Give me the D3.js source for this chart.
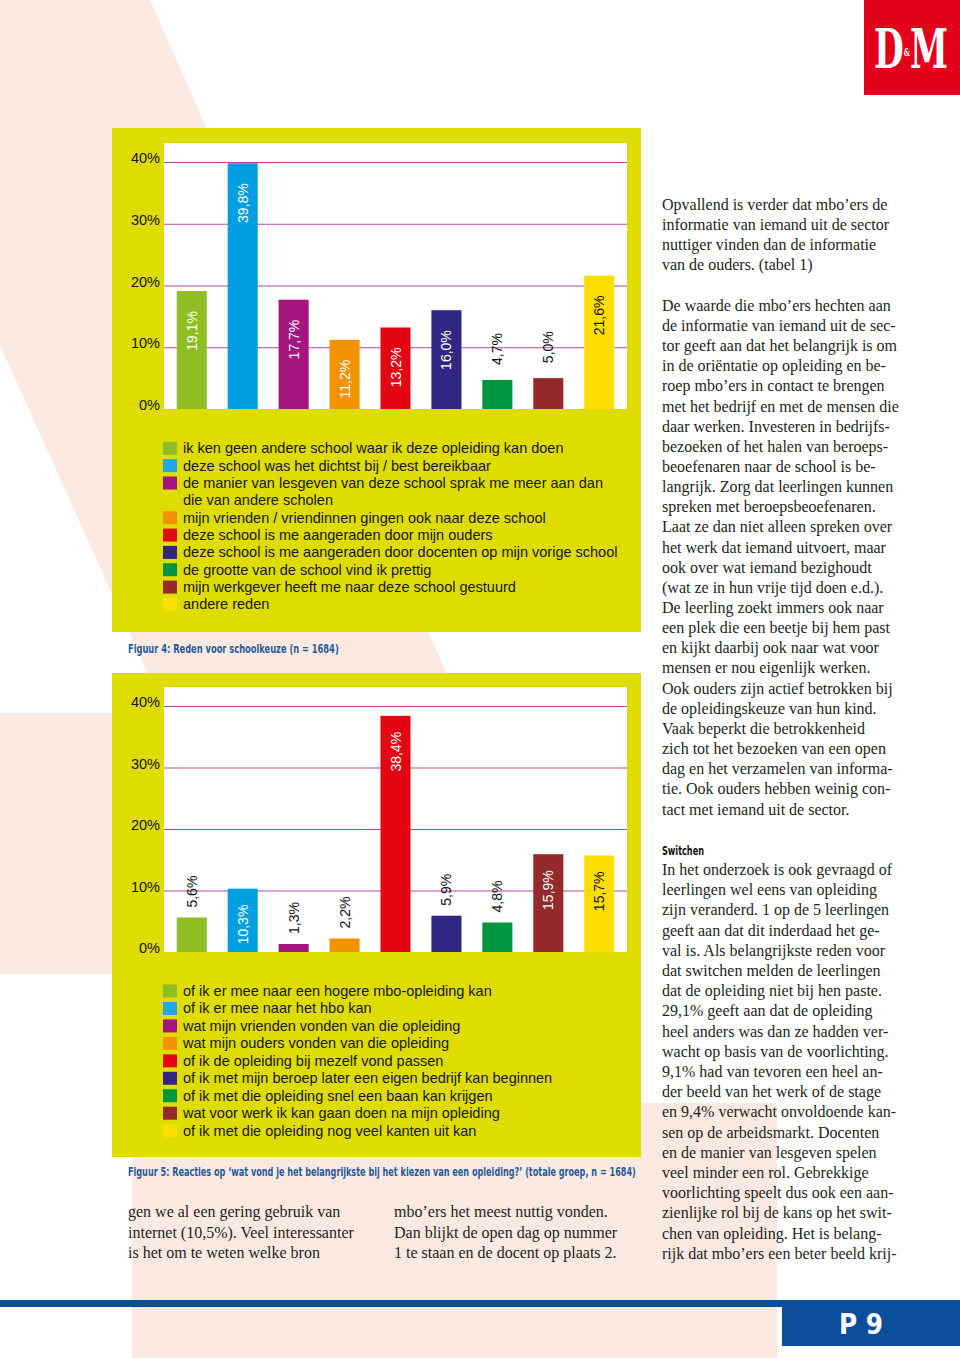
<!DOCTYPE html>
<html><head><meta charset="utf-8">
<script src="https://cdn.jsdelivr.net/npm/d3@7"></script>
<style>body{margin:0;background:#fff} svg{display:block}</style>
</head><body>
<script>
// ---------- DATA ----------
const categories1 = [
  "ik ken geen andere school waar ik deze opleiding kan doen",
  "deze school was het dichtst bij / best bereikbaar",
  "de manier van lesgeven van deze school sprak me meer aan dan die van andere scholen",
  "mijn vrienden / vriendinnen gingen ook naar deze school",
  "deze school is me aangeraden door mijn ouders",
  "deze school is me aangeraden door docenten op mijn vorige school",
  "de grootte van de school vind ik prettig",
  "mijn werkgever heeft me naar deze school gestuurd",
  "andere reden"
];
const values1 = [19.1, 39.8, 17.7, 11.2, 13.2, 16.0, 4.7, 5.0, 21.6];

const categories2 = [
  "of ik er mee naar een hogere mbo-opleiding kan",
  "of ik er mee naar het hbo kan",
  "wat mijn vrienden vonden van die opleiding",
  "wat mijn ouders vonden van die opleiding",
  "of ik de opleiding bij mezelf vond passen",
  "of ik met mijn beroep later een eigen bedrijf kan beginnen",
  "of ik met die opleiding snel een baan kan krijgen",
  "wat voor werk ik kan gaan doen na mijn opleiding",
  "of ik met die opleiding nog veel kanten uit kan"
];
const values2 = [5.6, 10.3, 1.3, 2.2, 38.4, 5.9, 4.8, 15.9, 15.7];

const yTicks = [0, 10, 20, 30, 40];
const caption1 = "Figuur 4: Reden voor schoolkeuze (n = 1684)";
const caption2 = "Figuur 5: Reacties op \u2018wat vond je het belangrijkste bij het kiezen van een opleiding?\u2019 (totale groep, n = 1684)";

const barColors = ["#8fbe24","#009fe3","#a5157f","#f39200","#e30613","#312783","#009640","#952a2a","#ffdd00"];
const legendColors = ["#8fbe24","#22a7e6","#a5157f","#f39200","#e30613","#312783","#009640","#952a2a","#f8e000"];

const rightColumn = [
  "Opvallend is verder dat mbo\u2019ers de",
  "informatie van iemand uit de sector",
  "nuttiger vinden dan de informatie",
  "van de ouders. (tabel 1)",
  "",
  "De waarde die mbo\u2019ers hechten aan",
  "de informatie van iemand uit de sec-",
  "tor geeft aan dat het belangrijk is om",
  "in de ori\u00ebntatie op opleiding en be-",
  "roep mbo\u2019ers in contact te brengen",
  "met het bedrijf en met de mensen die",
  "daar werken. Investeren in bedrijfs-",
  "bezoeken of het halen van beroeps-",
  "beoefenaren naar de school is be-",
  "langrijk. Zorg dat leerlingen kunnen",
  "spreken met beroepsbeoefenaren.",
  "Laat ze dan niet alleen spreken over",
  "het werk dat iemand uitvoert, maar",
  "ook over wat iemand bezighoudt",
  "(wat ze in hun vrije tijd doen e.d.).",
  "De leerling zoekt immers ook naar",
  "een plek die een beetje bij hem past",
  "en kijkt daarbij ook naar wat voor",
  "mensen er nou eigenlijk werken.",
  "Ook ouders zijn actief betrokken bij",
  "de opleidingskeuze van hun kind.",
  "Vaak beperkt die betrokkenheid",
  "zich tot het bezoeken van een open",
  "dag en het verzamelen van informa-",
  "tie. Ook ouders hebben weinig con-",
  "tact met iemand uit de sector."
];
const switchHeading = "Switchen";
const switchColumn = [
  "In het onderzoek is ook gevraagd of",
  "leerlingen wel eens van opleiding",
  "zijn veranderd. 1 op de 5 leerlingen",
  "geeft aan dat dit inderdaad het ge-",
  "val is. Als belangrijkste reden voor",
  "dat switchen melden de leerlingen",
  "dat de opleiding niet bij hen paste.",
  "29,1% geeft aan dat de opleiding",
  "heel anders was dan ze hadden ver-",
  "wacht op basis van de voorlichting.",
  "9,1% had van tevoren een heel an-",
  "der beeld van het werk of de stage",
  "en 9,4% verwacht onvoldoende kan-",
  "sen op de arbeidsmarkt. Docenten",
  "en de manier van lesgeven spelen",
  "veel minder een rol. Gebrekkige",
  "voorlichting speelt dus ook een aan-",
  "zienlijke rol bij de kans op het swit-",
  "chen van opleiding. Het is belang-",
  "rijk dat mbo\u2019ers een beter beeld krij-"
];
const bottomCol1 = [
  "gen we al een gering gebruik van",
  "internet (10,5%). Veel interessanter",
  "is het om te weten welke bron"
];
const bottomCol2 = [
  "mbo\u2019ers het meest nuttig vonden.",
  "Dan blijkt de open dag op nummer",
  "1 te staan en de docent op plaats 2."
];

// ---------- DRAW ----------
const W = 960, H = 1358;
const svg = d3.select("body").append("svg").attr("width", W).attr("height", H);
const pink = "#fce9e1", yellow = "#dedc00", grid = "#b9479b";
const sans = "'Liberation Sans', Arial, Helvetica, sans-serif";
const cond = "'DejaVu Sans Condensed', 'DejaVu Sans', sans-serif";
const serif = "'Liberation Serif', 'Times New Roman', serif";

svg.append("rect").attr("width", W).attr("height", H).attr("fill", "#fff");
svg.append("polygon").attr("points", "0,0 150,0 748,1358 456,1358 0,345").attr("fill", pink);
svg.append("rect").attr("x", 0).attr("y", 713).attr("width", 112).attr("height", 261).attr("fill", pink);
svg.append("rect").attr("x", 132).attr("y", 1103).attr("width", 645).attr("height", 255).attr("fill", pink);

function fitText(parent, str, x, y, targetW, opts) {
  const t = parent.append("text").attr("x", 0).attr("y", 0)
    .attr("font-family", opts.family).attr("font-weight", opts.weight || "normal")
    .attr("font-size", opts.size).attr("fill", opts.fill).text(str);
  const w = t.node().getComputedTextLength();
  t.attr("transform", `translate(${x},${y}) scale(${targetW / w},1)`);
  return t;
}

function wrapLines(str, maxW, g) {
  const probe = g.append("text").attr("font-family", sans).attr("font-size", 14.5);
  const lines = [];
  let cur = "";
  str.split(" ").forEach(w => {
    const test = cur ? cur + " " + w : w;
    probe.text(test);
    if (probe.node().getComputedTextLength() > maxW && cur) { lines.push(cur); cur = w; }
    else cur = test;
  });
  lines.push(cur);
  probe.remove();
  return lines;
}

function drawChart(cfg) {
  const g = svg.append("g");
  g.append("rect").attr("x", 112).attr("y", cfg.boxTop).attr("width", 529).attr("height", cfg.boxBottom - cfg.boxTop).attr("fill", yellow);
  g.append("rect").attr("x", 164).attr("y", cfg.plotTop).attr("width", 463).attr("height", cfg.plotBottom - cfg.plotTop).attr("fill", "#fff");

  const x = d3.scaleBand().domain(cfg.categories).range([164, 627]).paddingInner(0.41).paddingOuter(0.25);
  const y = d3.scaleLinear().domain([0, 40]).range([cfg.plotBottom, cfg.y40]);

  const axis = d3.axisLeft(y).tickValues(yTicks).tickSize(-463).tickPadding(4).tickFormat(d => d + "%");
  g.append("g").attr("transform", "translate(164,0)").call(axis)
    .call(a => a.select(".domain").remove())
    .call(a => a.selectAll(".tick line").attr("stroke", grid).attr("stroke-width", 1.2).filter(d => d === 0).remove())
    .call(a => a.selectAll(".tick text").attr("font-size", 14.5).attr("font-family", sans).attr("fill", "#111").attr("y", -4));

  const data = cfg.categories.map((c, i) => ({c, v: cfg.values[i], i}));
  g.selectAll("rect.bar").data(data).join("rect").attr("class", "bar")
    .attr("x", d => x(d.c)).attr("width", x.bandwidth())
    .attr("y", d => y(d.v)).attr("height", d => y(0) - y(d.v))
    .attr("fill", d => barColors[d.i]);

  g.selectAll("text.val").data(data).join("text").attr("class", "val")
    .attr("transform", d => {
      const inside = d.v >= 8;
      const yy = inside ? y(d.v) + cfg.offIn : y(d.v) - cfg.offOut;
      return `translate(${x(d.c) + x.bandwidth() / 2},${yy}) rotate(-90)`;
    })
    .attr("text-anchor", d => d.v >= 8 ? "end" : "start")
    .attr("dy", "0.36em")
    .attr("font-family", sans).attr("font-size", 14)
    .attr("fill", d => d.v >= 8 && d.i !== 8 ? "#fff" : "#111")
    .text(d => d.v.toFixed(1).replace(".", ",") + "%");

  let line = 0;
  data.forEach(d => {
    const cy = cfg.legendY + line * cfg.legendStep;
    g.append("rect").attr("x", 163).attr("y", cy - 6.5).attr("width", 14).attr("height", 13).attr("fill", legendColors[d.i]);
    const lines = wrapLines(d.c, 440, g);
    const t = g.append("text").attr("font-family", sans).attr("font-size", 14.5).attr("fill", "#161616");
    lines.forEach((s, k) => {
      t.append("tspan").attr("x", 183).attr("y", cfg.legendY + (line + k) * cfg.legendStep + 5).text(s);
    });
    line += lines.length;
  });

  fitText(svg, cfg.caption, 128, cfg.captionY + 4.5, cfg.captionW,
    {family: cond, weight: "bold", size: 12, fill: "#1f5c9e"});
}

drawChart({categories: categories1, values: values1, boxTop: 128, boxBottom: 632, plotTop: 143, plotBottom: 409, y40: 162,
  offIn: 20, offOut: 15, legendY: 448.3, legendStep: 17.35, caption: caption1, captionY: 648, captionW: 211});
drawChart({categories: categories2, values: values2, boxTop: 673, boxBottom: 1157, plotTop: 687, plotBottom: 952, y40: 706,
  offIn: 16, offOut: 10, legendY: 991, legendStep: 17.46, caption: caption2, captionY: 1171, captionW: 508});

function textBlock(lines, x, y0, step) {
  const t = svg.append("text").attr("font-family", serif).attr("font-size", 16).attr("fill", "#231f20");
  lines.forEach((s, i) => {
    if (!s) return;
    t.append("tspan").attr("x", x).attr("y", y0 + i * step + 5).text(s);
  });
}
textBlock(rightColumn, 662, 205, 20.15);
fitText(svg, switchHeading, 662, 854.5, 42, {family: cond, weight: "bold", size: 12.5, fill: "#111"});
textBlock(switchColumn, 662, 870, 20.2);
textBlock(bottomCol1, 128, 1211.7, 20.8);
textBlock(bottomCol2, 394, 1211.7, 20.8);

// footer
svg.append("rect").attr("x", 0).attr("y", 1300).attr("width", W).attr("height", 7).attr("fill", "#0b4f9c");
svg.append("rect").attr("x", 782).attr("y", 1300).attr("width", 178).attr("height", 46).attr("fill", "#0b4f9c");
fitText(svg, "P 9", 839, 1334, 44, {family: cond, weight: "bold", size: 29, fill: "#fff"});

// logo (single text run, no overlapping glyph runs)
svg.append("rect").attr("x", 864).attr("y", 0).attr("width", 96).attr("height", 95).attr("fill", "#e2001a");
const logo = svg.append("text").attr("x", 0).attr("y", 0).attr("font-family", "'DejaVu Serif', serif")
  .attr("font-weight", "bold").attr("fill", "#fff");
logo.append("tspan").attr("font-size", 54).text("D");
logo.append("tspan").attr("font-size", 11).attr("dy", -12).text("&");
logo.append("tspan").attr("font-size", 54).attr("dy", 12).text("M");
const lw = logo.node().getComputedTextLength();
logo.attr("transform", `translate(874,68) scale(${74 / lw},1)`);
</script>
</body></html>
